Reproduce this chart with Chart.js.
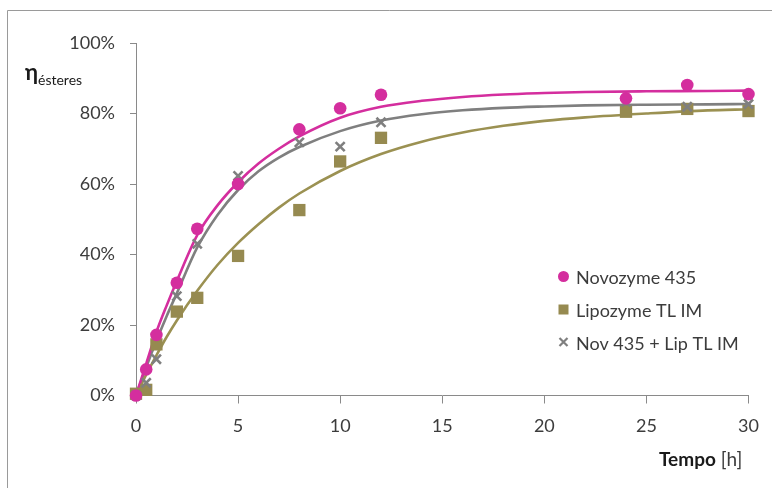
<!DOCTYPE html>
<html>
<head>
<meta charset="utf-8">
<script src="https://cdn.jsdelivr.net/npm/chart.js@4.4.1/dist/chart.umd.min.js"></script>
<style>
  html, body { margin: 0; padding: 0; background: #ffffff; }
  #wrap { width: 772px; height: 488px; position: relative; }
</style>
</head>
<body>
<div id="wrap"><canvas id="chart" width="772" height="488"></canvas></div>
<script>
// Measured ester conversion (%) over reaction time (h)
const hours     = [0, 0.5, 1, 2, 3, 5, 8, 10, 12, 24, 27, 30];
const novozyme  = [0, 7.4, 17.2, 32.0, 47.3, 60.0, 75.5, 81.5, 85.3, 84.3, 88.1, 85.5];
const lipozyme  = [0.5, 1.6, 14.5, 23.8, 27.7, 39.6, 52.6, 66.4, 73.1, 80.5, 81.3, 80.7];
const novLip    = [0, 3.6, 10.3, 28.2, 43.0, 62.3, 71.8, 70.6, 77.5, 83.3, 81.9, 82.7];

// Kinetic trend lines (%) sampled along the time axis
const fitHours     = [0, 0.5, 1, 1.5, 2, 3, 4, 5, 6, 7, 8, 10, 12, 14, 16, 18, 20, 22, 25, 28, 30];
const fitNovozyme  = [0, 9, 18, 25.5, 32.5, 45.5, 54, 60.5, 65.8, 70, 73.5, 78.8, 81.9, 83.6, 84.7, 85.4, 85.8, 86.1, 86.3, 86.4, 86.5];
const fitLipozyme  = [0, 5.9, 11.4, 16.6, 21.3, 29.7, 37.1, 43.3, 48.6, 53.3, 57.3, 63.7, 68.5, 72.0, 74.6, 76.5, 77.9, 78.9, 80.0, 80.9, 81.2];
const fitNovLip    = [0, 8, 15.5, 22.5, 29, 42, 51.3, 58.3, 63.6, 67.5, 70.5, 75, 78, 79.8, 80.9, 81.6, 82, 82.3, 82.5, 82.6, 82.7];

// Axis ticks
const xTicks = [0, 5, 10, 15, 20, 25, 30];
const yTicks = [0, 20, 40, 60, 80, 100];

const seriesNames = ['Novozyme 435', 'Lipozyme TL IM', 'Nov 435 + Lip TL IM'];

const MAGENTA = '#d42e9e';
const OLIVE   = '#968a50';
const OLIVE_LINE = '#9b9152';
const GRAY    = '#7f7f7f';
const TEXT    = '#3c3c3c';
const AXIS    = '#8a8a8a';
const FONT    = 'Lato, "Open Sans", "DejaVu Sans", sans-serif';

const pts = (xs, ys) => xs.map((x, i) => ({ x: x, y: ys[i] }));

const curve = (data, color) => ({
  data: data,
  showLine: true,
  borderColor: color,
  borderWidth: 2.6,
  pointRadius: 0,
  pointHoverRadius: 0,
  cubicInterpolationMode: 'monotone',
  fill: false,
  clip: false,
  order: 2,
  isTrend: true
});

const datasets = [
  {
    label: seriesNames[0], data: pts(hours, novozyme),
    pointStyle: 'circle', pointRadius: 6.3, backgroundColor: MAGENTA, borderColor: MAGENTA,
    borderWidth: 0, showLine: false, clip: false, order: 0
  },
  {
    label: seriesNames[1], data: pts(hours, lipozyme),
    pointStyle: 'rect', pointRadius: 8.7, backgroundColor: OLIVE, borderColor: OLIVE,
    borderWidth: 0, showLine: false, clip: false, order: 1
  },
  {
    label: seriesNames[2], data: pts(hours, novLip),
    pointStyle: 'crossRot', pointRadius: 6.4, backgroundColor: GRAY, borderColor: GRAY,
    borderWidth: 2.6, showLine: false, clip: false, order: 0
  },
  curve(pts(fitHours, fitNovozyme), MAGENTA),
  curve(pts(fitHours, fitLipozyme), OLIVE_LINE),
  curve(pts(fitHours, fitNovLip), GRAY)
];

// Frame, axis titles and legend drawn on top of the plot
const decorations = {
  id: 'decorations',
  afterDraw(chart) {
    const ctx = chart.ctx;
    ctx.save();

    // outer frame (top and left edges)
    ctx.strokeStyle = '#9a9a9a';
    ctx.lineWidth = 1;
    ctx.beginPath();
    ctx.moveTo(7.5, 488);
    ctx.lineTo(7.5, 10.5);
    ctx.lineTo(772, 10.5);
    ctx.stroke();

    // y-axis title: η with subscript
    ctx.fillStyle = '#1a1a1a';
    ctx.textBaseline = 'alphabetic';
    ctx.textAlign = 'left';
    ctx.font = 'bold 22px ' + FONT;
    ctx.fillText('η', 25, 80);
    ctx.font = '14px ' + FONT;
    ctx.fillText('ésteres', 38, 85);

    // x-axis title
    ctx.font = 'bold 19px ' + FONT;
    const t1 = 'Tempo';
    ctx.fillText(t1, 659, 466);
    const w1 = ctx.measureText(t1).width;
    ctx.font = '19px ' + FONT;
    ctx.fillStyle = TEXT;
    ctx.fillText(' [h]', 659 + w1, 466);

    // legend
    const lx = 563.5, tx = 576;
    const rows = [284, 317, 349.5];
    ctx.font = '18px ' + FONT;
    chart.data.datasets.forEach((ds, i) => {
      if (ds.isTrend) return;
      const by = rows[i];
      const cy = by - 7.5;
      ctx.fillStyle = ds.backgroundColor;
      ctx.strokeStyle = ds.borderColor;
      if (ds.pointStyle === 'circle') {
        ctx.beginPath();
        ctx.arc(lx, cy, 5.5, 0, Math.PI * 2);
        ctx.fill();
      } else if (ds.pointStyle === 'rect') {
        ctx.fillRect(lx - 5, cy - 5, 10, 10);
      } else {
        ctx.lineWidth = 2.2;
        ctx.beginPath();
        ctx.moveTo(lx - 4, cy - 4); ctx.lineTo(lx + 4, cy + 4);
        ctx.moveTo(lx + 4, cy - 4); ctx.lineTo(lx - 4, cy + 4);
        ctx.stroke();
      }
      ctx.fillStyle = TEXT;
      ctx.fillText(ds.label, tx, by);
    });

    ctx.restore();
  }
};

new Chart(document.getElementById('chart'), {
  type: 'scatter',
  data: { datasets: datasets },
  options: {
    responsive: false,
    devicePixelRatio: 1,
    animation: false,
    layout: { padding: { left: 10, top: 43, right: 23.5, bottom: 0 } },
    plugins: {
      legend: { display: false },
      tooltip: { enabled: false }
    },
    scales: {
      x: {
        type: 'linear',
        min: 0, max: 30,
        afterFit(scale) { scale.height = 92.5; },
        afterBuildTicks(scale) { scale.ticks = xTicks.map(v => ({ value: v })); },
        grid: { drawOnChartArea: false, drawTicks: true, tickLength: 8, color: AXIS, lineWidth: 1 },
        border: { color: AXIS, width: 1 },
        ticks: { color: TEXT, font: { family: FONT, size: 18 }, padding: 12, maxRotation: 0 }
      },
      y: {
        type: 'linear',
        min: 0, max: 100,
        afterFit(scale) { scale.width = 126; },
        afterBuildTicks(scale) { scale.ticks = yTicks.map(v => ({ value: v })); },
        grid: { drawOnChartArea: false, drawTicks: true, tickLength: 6, color: AXIS, lineWidth: 1 },
        border: { color: AXIS, width: 1 },
        ticks: {
          color: TEXT, font: { family: FONT, size: 18 }, padding: 15,
          callback: v => v + '%'
        }
      }
    }
  },
  plugins: [decorations]
});
</script>
</body>
</html>
